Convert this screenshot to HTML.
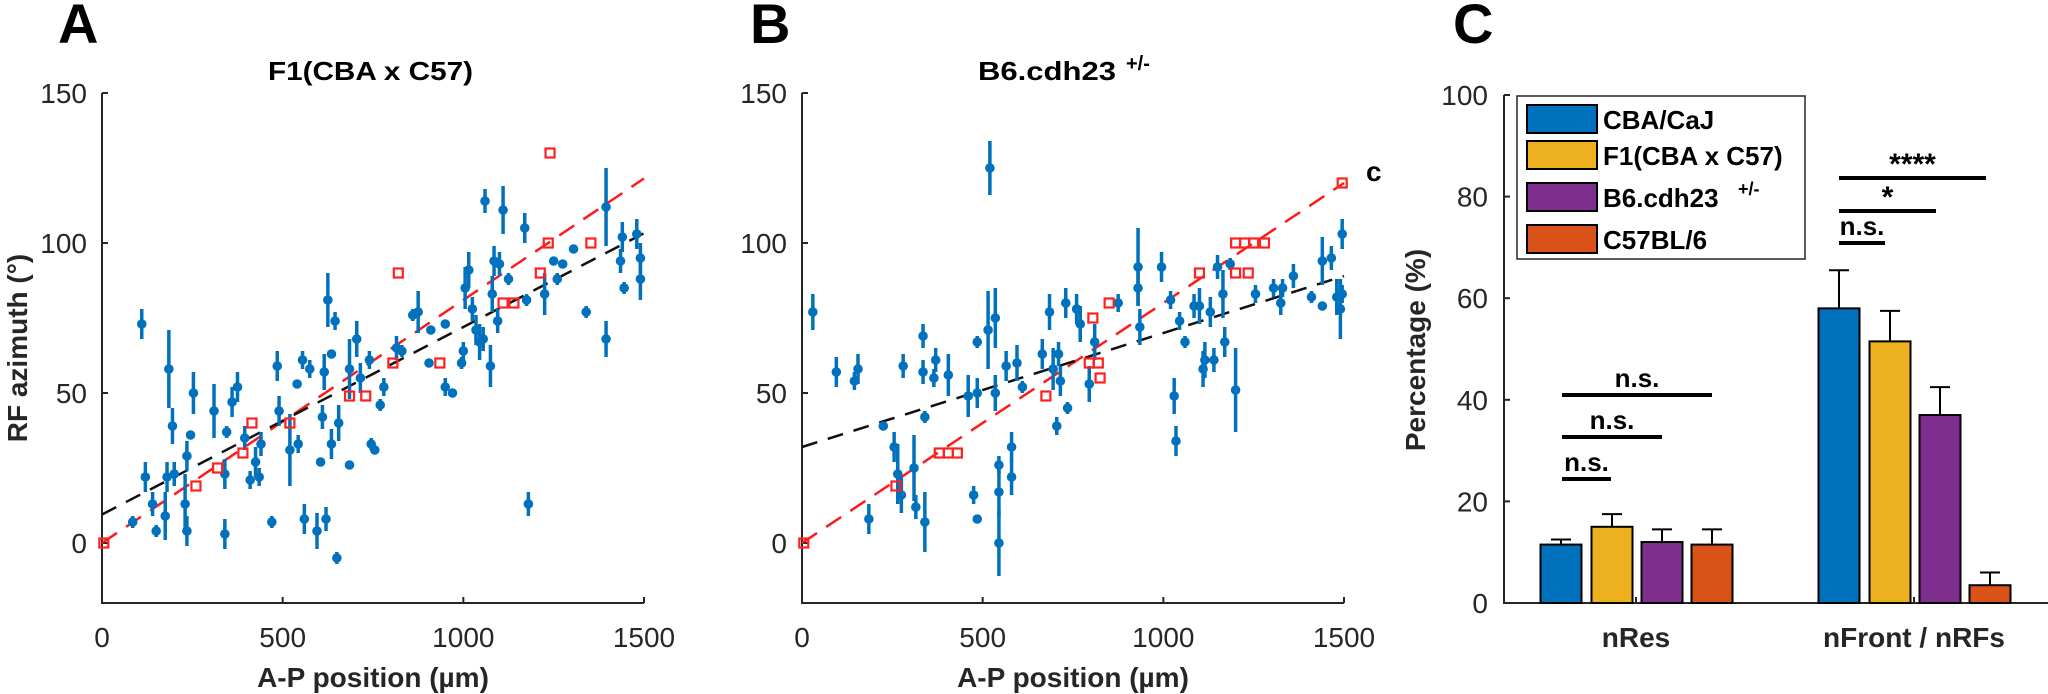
<!DOCTYPE html>
<html><head><meta charset="utf-8"><style>
html,body{margin:0;padding:0;background:#fff;}
svg{display:block;font-family:"Liberation Sans",sans-serif;}
</style></head><body>
<svg id="fig" width="2048" height="694" viewBox="0 0 2048 694" xmlns="http://www.w3.org/2000/svg">
<g id="gA"></g>
<g id="gB"></g>
<g id="gC"></g>
</svg>
<script>
// ---- Panel A data: [x (µm), y (deg), half error]
const aBlueX=[110,185,195,120,140,85,150,175,180,200,235,230,235,245,253,310,340,340,345,360,375,395,410,435,425,440,470,485,490,520,540,543,555,560,575,595,605,610,615,620,625,635,645,650,635,655,685,685,705,715,740,745,755,770,780,815,830,860,875,905,910,950,950,970,995,1000,1005,1015,1025,1035,1045,1055,1075,1080,1085,1095,1100,1110,1125,1170,1180,1175,1225,1250,1260,1275,1305,1340,1060,1395,1395,1435,1445,1440,1480,1490,1490];
const aBlueY=[73,58,39,22,13,7,4,9,22,23,4,13,29,36,50,44,3,23,37,47,52,35,21,22,27,33,7,59,44,31,53,33,61,8,58,4,27,42,57,8,81,63,74,-5,33,40,26,58,68,55,61,33,31,46,52,65,64,76,77,60,71,73,52,50,60,64,85,91,78,71,67,68,59,83,94,74,93,111,88,105,13,81,83,94,88,93,98,77,114,112,68,94,85,102,103,95,88];
const aBlueE=[5,13,6,5,4,2,2,8,5,4,5,10,5,1,7,9,5,5,2,5,5,4,3,3,5,4,2,5,5,12,1,3,3,5,3,6,1,4,6,4,9,1,3,2,5,6,1,10,6,5,3,2,1,2,3,4,2,2,7,1,1,1,3,1,2,3,7,6,4,5,6,4,7,6,5,4,4,8,2,5,4,2,7,1,2,1,1,2,4,13,6,4,2,5,5,5,7];
const aRedX=[5,260,320,390,415,520,685,730,805,820,935,1110,1140,1213,1235,1240,1353];
const aRedY=[0,19,25,30,40,40,49,49,60,90,60,80,80,90,100,130,100];
const aRedFit=[0,0.081];     // intercept, slope
const aBlackFit=[9.5,0.0625];
// ---- Panel B data
const bBlueX=[30,95,145,155,185,225,255,265,275,280,310,315,335,335,340,340,365,370,405,460,475,485,485,485,515,520,535,535,545,545,545,580,580,565,595,610,665,685,695,705,710,715,730,735,760,770,795,810,875,930,930,935,995,1020,1030,1035,1045,1060,1085,1100,1110,1115,1130,1140,1150,1165,1170,1200,1185,1255,1305,1325,1330,1360,1410,1440,1440,1465,1480,1495,1495,1490];
const bBlueY=[77,57,54,58,8,39,32,23,16,59,25,12,69,57,7,42,55,61,56,49,16,8,67,50,71,125,75,50,26,17,0,32,22,59,60,52,63,77,58,39,63,54,80,45,78,73,53,67,80,92,85,72,92,81,49,34,74,67,79,79,58,61,77,61,92,83,67,51,93,83,85,80,85,89,82,94,79,95,82,103,83,78];
const bBlueE=[6,5,3,5,5,1,5,10,6,4,11,4,4,4,10,2,3,4,7,7,3,1,2,5,13,9,10,6,3,8,11,5,6,5,6,2,5,6,7,3,4,5,5,2,5,6,6,6,3,13,6,6,5,3,6,5,3,2,4,6,6,6,5,4,4,8,5,14,2,3,3,4,3,4,2,8,1,4,6,5,3,10];
const bRedX=[5,260,380,405,430,675,795,820,825,805,850,1100,1200,1225,1250,1280,1200,1235,1495];
const bRedY=[0,19,30,30,30,49,60,60,55,75,80,90,100,100,100,100,90,90,120];
const bRedFit=[0,0.08];
const bBlackFit=[32,0.038];
// ---- Panel C data
const cCats=["nRes","nFront / nRFs"];
const cSeries=["CBA/CaJ","F1(CBA x C57)","B6.cdh23","C57BL/6"];
const cVals=[[11.5,15,12,11.5],[58,51.5,37,3.5]];
const cErrTop=[[12.5,17.5,14.5,14.5],[65.5,57.5,42.5,6]];
const yTicksScatter=[0,50,100,150];
const xTicksScatter=[0,500,1000,1500];
const yTicksBar=[0,20,40,60,80,100];

const NS="http://www.w3.org/2000/svg";
const colors=["#0072BD","#EDB120","#7E2F8E","#D95319"];
function mk(parent,tag,attrs,text){const e=document.createElementNS(NS,tag);for(const k in attrs)e.setAttribute(k,attrs[k]);if(text!==undefined)e.textContent=text;parent.appendChild(e);return e;}

function scatterPanel(g,x0,key,bx,by,be,rx,ry,rfit,kfit){
  const X=v=>x0+v/1500*542, Y=v=>543-v*3.0;
  const yTop=Y(150), yBot=Y(-20);
  // axes
  const ax=mk(g,'path',{d:`M${x0} ${yTop}V${yBot}H${X(1500)}`,fill:'none',stroke:'#262626','stroke-width':2});
  
  yTicksScatter.forEach(t=>{
    const tk=mk(g,'line',{x1:x0,x2:x0+6,y1:Y(t),y2:Y(t),stroke:'#262626','stroke-width':2});
    
    const tl=mk(g,'text',{x:x0-15,y:Y(t)+10,'text-anchor':'end','font-size':28,fill:'#262626'},String(t));
    
  });
  xTicksScatter.forEach(t=>{
    const tk=mk(g,'line',{x1:X(t),x2:X(t),y1:yBot,y2:yBot-6,stroke:'#262626','stroke-width':2});
    
    const tl=mk(g,'text',{x:X(t),y:647,'text-anchor':'middle','font-size':28,fill:'#262626'},String(t));
    
  });
  // fit lines
  const rl=mk(g,'line',{x1:X(0),y1:Y(rfit[0]),x2:X(1500),y2:Y(rfit[0]+rfit[1]*1500),stroke:'#FF1a1a','stroke-width':2.5,'stroke-dasharray':'18 11'});
  
  const kl=mk(g,'line',{x1:X(0),y1:Y(kfit[0]),x2:X(1500),y2:Y(kfit[0]+kfit[1]*1500),stroke:'#111','stroke-width':2.5,'stroke-dasharray':'16 11'});
  
  // blue points
  bx.forEach((v,i)=>{
    const eb=mk(g,'line',{x1:X(v),x2:X(v),y1:Y(by[i]-be[i]),y2:Y(by[i]+be[i]),stroke:'#0072BD','stroke-width':3.5});
    
    const c=mk(g,'circle',{cx:X(v),cy:Y(by[i]),r:4.8,fill:'#0072BD'});
    
  });
  rx.forEach((v,i)=>{
    const s=mk(g,'rect',{x:X(v)-4.5,y:Y(ry[i])-4.5,width:9,height:9,fill:'none',stroke:'#FF2020','stroke-width':2.2});
    
  });
  const xl=mk(g,'text',{x:X(750),y:687,'text-anchor':'middle','font-size':28,'font-weight':'bold',fill:'#262626'},'A-P position (µm)');
  
}

const gA=document.getElementById('gA'), gB=document.getElementById('gB'), gC=document.getElementById('gC');
scatterPanel(gA,102,'a',aBlueX,aBlueY,aBlueE,aRedX,aRedY,aRedFit,aBlackFit);
scatterPanel(gB,802,'b',bBlueX,bBlueY,bBlueE,bRedX,bRedY,bRedFit,bBlackFit);

let t;
t=mk(gA,'text',{x:58,y:43,'font-size':56,'font-weight':'bold',fill:'#000'},'A');

t=mk(gB,'text',{x:750,y:43,'font-size':56,'font-weight':'bold',fill:'#000'},'B');

t=mk(gC,'text',{x:1453,y:43,'font-size':56,'font-weight':'bold',fill:'#000'},'C');

t=mk(gA,'text',{x:268,y:80,'font-size':26,'font-weight':'bold',fill:'#000',textLength:205,lengthAdjust:'spacingAndGlyphs'},'F1(CBA x C57)');

t=mk(gB,'text',{x:978,y:80,'font-size':26,'font-weight':'bold',fill:'#000',textLength:138,lengthAdjust:'spacingAndGlyphs'},'B6.cdh23');

t=mk(gB,'text',{x:1126,y:70,'font-size':20,'font-weight':'bold',fill:'#000'},'+/-');

t=mk(gA,'text',{x:0,y:0,'font-size':28,'font-weight':'bold',fill:'#262626','text-anchor':'middle',transform:'translate(27,348) rotate(-90)'},'RF azimuth (°)');

t=mk(gB,'text',{x:1366,y:181,'font-size':28,'font-weight':'bold',fill:'#000'},'c');


// ---- Panel C
(function(){
  const x0=1504, Y=v=>603-v*5.08;
  const groupC=[1636,1914], offs=[-75,-24,26,76], bw=41;
  const ax=mk(gC,'path',{d:`M${x0} ${Y(100)}V${Y(0)}H2048`,fill:'none',stroke:'#262626','stroke-width':2});
  
  yTicksBar.forEach(v=>{
    const tk=mk(gC,'line',{x1:x0,x2:x0+6,y1:Y(v),y2:Y(v),stroke:'#262626','stroke-width':2});
    
    const tl=mk(gC,'text',{x:1488,y:Y(v)+10,'text-anchor':'end','font-size':28,fill:'#262626'},String(v));
    
  });
  cCats.forEach((c,gi)=>{
    const tk=mk(gC,'line',{x1:groupC[gi],x2:groupC[gi],y1:603,y2:597,stroke:'#262626','stroke-width':2});
    
    const tl=mk(gC,'text',{x:groupC[gi],y:647,'text-anchor':'middle','font-size':28,'font-weight':'bold',fill:'#262626'},c);
    
    cVals[gi].forEach((v,si)=>{
      const cx=groupC[gi]+offs[si];
      const eb=mk(gC,'path',{d:`M${cx} ${Y(v)}V${Y(cErrTop[gi][si])}M${cx-10} ${Y(cErrTop[gi][si])}H${cx+10}`,stroke:'#000','stroke-width':2,fill:'none'});
      
      const r=mk(gC,'rect',{x:cx-bw/2,y:Y(v),width:bw,height:Y(0)-Y(v),fill:colors[si],stroke:'#000','stroke-width':2});
      
    });
  });
  t=mk(gC,'text',{x:0,y:0,'font-size':28,'font-weight':'bold',fill:'#262626','text-anchor':'middle',transform:'translate(1425,350) rotate(-90)'},'Percentage (%)');
  
  // significance
  const sig=[[1562,1611,479,'n.s.'],[1562,1662,437,'n.s.'],[1562,1712,395,'n.s.'],[1839,1885,243,'n.s.'],[1839,1936,211,'*'],[1839,1986,178,'****']];
  sig.forEach(s=>{
    const l=mk(gC,'line',{x1:s[0],x2:s[1],y1:s[2],y2:s[2],stroke:'#000','stroke-width':4});
    
    const tx=mk(gC,'text',{x:(s[0]+s[1])/2,y:s[3]==='n.s.'?s[2]-8:s[2]-4,'text-anchor':'middle','font-size':s[3]==='n.s.'?26:30,'font-weight':'bold',fill:'#000'},s[3]);
    
  });
  // legend
  const lg=mk(gC,'g',{});
  
  mk(lg,'rect',{x:1517,y:96,width:288,height:163,fill:'#fff',stroke:'#262626','stroke-width':1.5});
  const ly=[119,155,197,239];
  cSeries.forEach((n,i)=>{
    const e=mk(lg,'g',{});
    
    mk(e,'rect',{x:1527,y:ly[i]-14,width:70,height:28,fill:colors[i],stroke:'#000','stroke-width':2});
    mk(e,'text',{x:1603,y:ly[i]+10,'font-size':26,'font-weight':'bold',fill:'#000'},n);
    if(i===2) mk(e,'text',{x:1738,y:ly[i]-2,'font-size':18,'font-weight':'bold',fill:'#000'},'+/-');
  });
})();
</script>
</body></html>
